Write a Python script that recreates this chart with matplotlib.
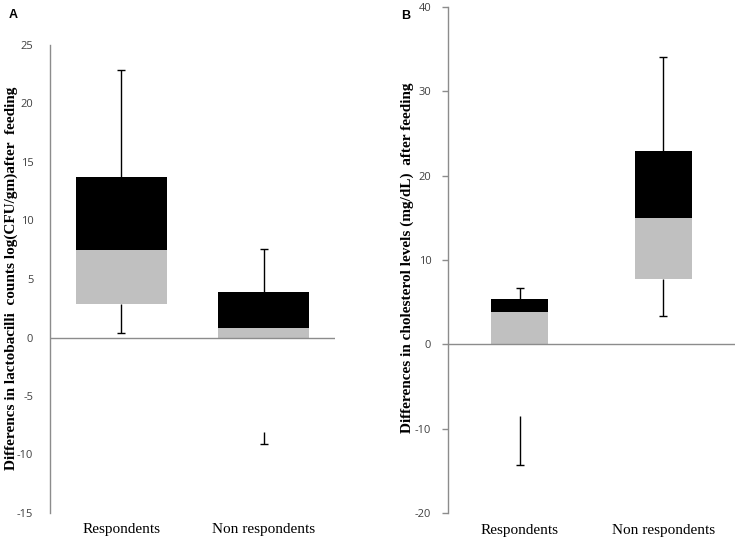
import matplotlib
matplotlib.use("Agg")
import matplotlib.pyplot as plt
import numpy as np

categories = ['Respondents', 'Non respondents']

# panel A: lactobacilli counts
a_q1 = [2.9, 0.0]
a_med = [7.5, 0.85]
a_q3 = [13.7, 3.85]
a_upper = [22.9, 7.6]
a_low_from = [2.9, -8.05]
a_low_to = [0.4, -9.1]
a_ticks = [-15, -10, -5, 0, 5, 10, 15, 20, 25]

# panel B: cholesterol levels
b_q1 = [0.0, 7.75]
b_med = [3.8, 14.95]
b_q3 = [5.4, 22.9]
b_upper = [6.7, 34.1]
b_low_from = [-8.55, 7.75]
b_low_to = [-14.25, 3.4]
b_ticks = [-20, -10, 0, 10, 20, 30, 40]

axis_grey = '#8c8c8c'
tick_font = {'family': 'Open Sans', 'size': 8, 'color': '#404040'}


def draw_panel(ax, q1, med, q3, upper, low_from, low_to, ticks, width, tick_len):
    x = np.arange(len(categories))
    q1 = np.array(q1); med = np.array(med); q3 = np.array(q3)
    # whiskers first so the boxes sit on top
    ax.vlines(x, q3, upper, color='black', lw=1, zorder=1)
    ax.plot(x, upper, ls='none', marker='_', ms=6, mew=1, color='black', zorder=1)
    ax.vlines(x, low_from, low_to, color='black', lw=1, zorder=1)
    ax.plot(x, low_to, ls='none', marker='_', ms=6, mew=1, color='black', zorder=1)
    ax.bar(x, med - q1, bottom=q1, width=width, color='#c0c0c0', zorder=2)
    ax.bar(x, q3 - med, bottom=med, width=width, color='black', zorder=2)
    ax.axhline(0, color=axis_grey, lw=1, zorder=3)

    ax.set_xlim(-0.5, len(categories) - 0.5)
    ax.set_ylim(ticks[0], ticks[-1])
    ax.set_yticks(ticks)
    ax.set_yticklabels([str(t) for t in ticks], fontdict=tick_font)
    ax.set_xticks([])
    for s in ['top', 'right', 'bottom']:
        ax.spines[s].set_visible(False)
    ax.spines['left'].set_color(axis_grey)
    ax.spines['left'].set_linewidth(1)
    ax.tick_params(axis='y', length=tick_len, width=1, color=axis_grey,
                   pad=12 - tick_len if tick_len else 12)
    for i, c in enumerate(categories):
        ax.text(x[i], -0.022, c, transform=ax.get_xaxis_transform(),
                ha='center', va='top', family='Liberation Serif', fontsize=11)


fig = plt.figure(figsize=(7.39, 5.42), dpi=100)

ax_a = fig.add_axes([50 / 739, 1 - 513 / 542, 285 / 739, 468 / 542])
draw_panel(ax_a, a_q1, a_med, a_q3, a_upper, a_low_from, a_low_to, a_ticks, 0.64, 0)

ax_b = fig.add_axes([448 / 739, 1 - 513 / 542, 287 / 739, 506 / 542])
draw_panel(ax_b, b_q1, b_med, b_q3, b_upper, b_low_from, b_low_to, b_ticks, 0.40, 4)

fig.text(11 / 739, 1 - 278 / 542, 'Differencs in lactobacilli  counts log(CFU/gm)after  feeding',
         rotation=90, ha='center', va='center', family='Liberation Serif',
         fontweight='bold', fontsize=11)
fig.text(407 / 739, 1 - 258 / 542, 'Differences in cholesterol levels (mg/dL)  after feeding',
         rotation=90, ha='center', va='center', family='Liberation Serif',
         fontweight='bold', fontsize=11)

fig.text(13 / 739, 1 - 15 / 542, 'A', ha='center', va='center',
         family='Liberation Sans', fontweight='bold', fontsize=9)
fig.text(406 / 739, 1 - 16 / 542, 'B', ha='center', va='center',
         family='Liberation Sans', fontweight='bold', fontsize=9)

fig.savefig('out.png', dpi=100)
